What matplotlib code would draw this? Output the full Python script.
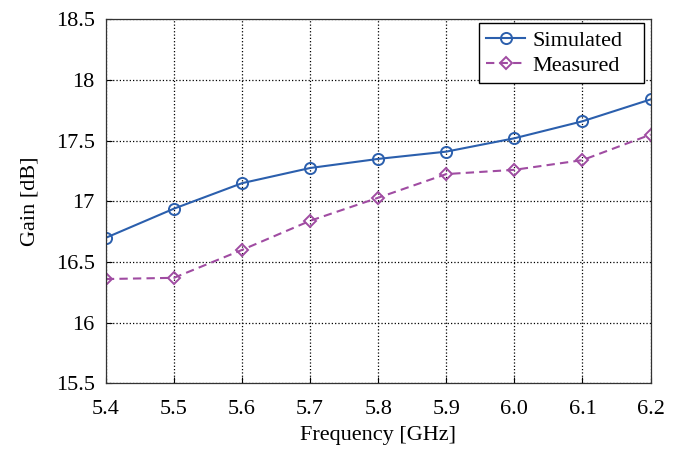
import matplotlib
matplotlib.use("Agg")
import matplotlib.pyplot as plt

freq = [5.4, 5.5, 5.6, 5.7, 5.8, 5.9, 6.0, 6.1, 6.2]
simulated = [16.70, 16.94, 17.15, 17.275, 17.35, 17.41, 17.52, 17.66, 17.84]
measured = [16.36, 16.37, 16.60, 16.84, 17.03, 17.225, 17.26, 17.34, 17.55]
xtick_labels = ['5.4', '5.5', '5.6', '5.7', '5.8', '5.9', '6.0', '6.1', '6.2']
yticks = [15.5, 16, 16.5, 17, 17.5, 18, 18.5]
ytick_labels = ['15.5', '16', '16.5', '17', '17.5', '18', '18.5']

plt.rcParams['font.family'] = ['Liberation Serif', 'DejaVu Serif']
plt.rcParams['font.size'] = 16

fig = plt.figure(figsize=(6.83, 4.5), dpi=100)
ax = fig.add_axes([0.155, 0.148, 0.7975, 0.809])

ax.plot(freq, simulated, color='#2b5fad', marker='o', markersize=8,
        markerfacecolor='none', markeredgewidth=1.4, linewidth=1.5, label='Simulated')
ax.plot(freq, measured, color='#a04ca2', marker='D', markersize=6.5,
        markerfacecolor='none', markeredgewidth=1.4, linewidth=1.5,
        linestyle='--', dashes=(4, 2.5), label='Measured')

ax.set_xlim(5.4, 6.2)
ax.set_ylim(15.5, 18.5)
ax.set_xticks(freq)
ax.set_xticklabels(xtick_labels)
ax.set_yticks(yticks)
ax.set_yticklabels(ytick_labels)
ax.tick_params(direction='in', length=4, width=0.8, labelsize=16)
ax.tick_params(axis='x', pad=12)
ax.tick_params(axis='y', pad=8)

ax.grid(True, color='black', linestyle=':', linewidth=0.9)
for s in ax.spines.values():
    s.set_linewidth(0.9)
    s.set_color('#333333')

ax.set_xlabel('Frequency [GHz]', fontsize=16, labelpad=5)
ax.set_ylabel('Gain [dB]', fontsize=16, labelpad=12)

# legend box stretched to the width seen in the reference
leg = ax.legend(loc='upper left', bbox_to_anchor=(0.685, 0.5, 0.303, 0.49),
                mode='expand', fontsize=16, fancybox=False, framealpha=1,
                edgecolor='black', borderpad=0.32, handlelength=1.75,
                labelspacing=0.2, handletextpad=0.35, borderaxespad=0)
leg.get_frame().set_linewidth(1.0)

fig.savefig('out.png', dpi=100)
